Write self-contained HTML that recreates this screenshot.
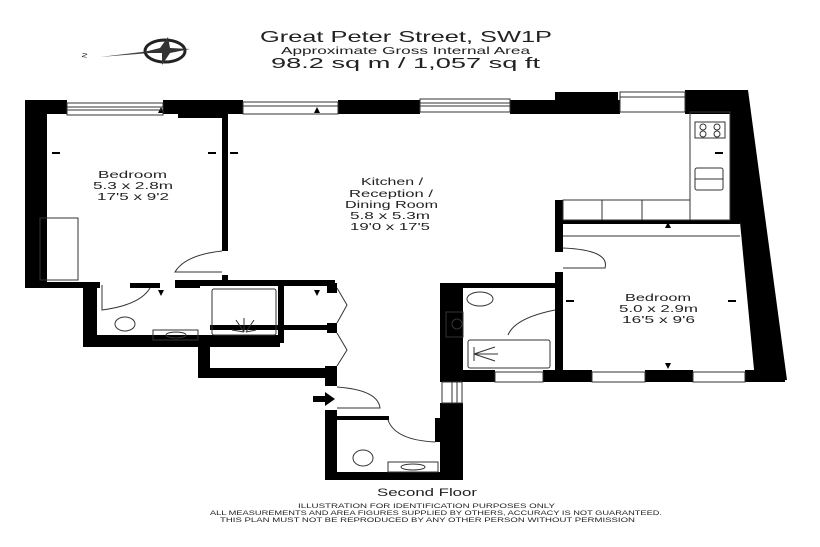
<!DOCTYPE html>
<html><head><meta charset="utf-8"><style>
html,body{margin:0;padding:0;background:#fff;width:820px;height:547px;overflow:hidden}
svg{display:block}
text{font-family:"Liberation Sans",sans-serif;fill:#222}
</style></head><body>
<svg width="820" height="547" viewBox="0 0 820 547" xmlns="http://www.w3.org/2000/svg">
<!-- header -->
<text x="260" y="42" font-size="16" textLength="292" lengthAdjust="spacingAndGlyphs">Great Peter Street, SW1P</text>
<text x="281" y="54" font-size="10.5" textLength="249" lengthAdjust="spacingAndGlyphs">Approximate Gross Internal Area</text>
<text x="271" y="68" font-size="15" textLength="269" lengthAdjust="spacingAndGlyphs">98.2 sq m  /  1,057 sq ft</text>
<!-- compass -->
<text x="82" y="57" font-size="7" transform="rotate(-80 85 55)">N</text>
<polygon points="100,57 150,51 150,53" fill="#444"/>
<ellipse cx="165" cy="51" rx="20" ry="11" fill="none" stroke="#222" stroke-width="3"/>
<polygon points="168,37 170,48 190,49 170,53 162,65 162,53 140,53 160,48" fill="#333"/>
<g fill="#000">
<rect x="25" y="100" width="42" height="14"/>
<rect x="163" y="100" width="80" height="14"/>
<rect x="178" y="100" width="44" height="18"/>
<rect x="338" y="100" width="82" height="14"/>
<rect x="510" y="100" width="110" height="14"/>
<rect x="555" y="92" width="63" height="22"/>
<rect x="685" y="90" width="60" height="24"/>
<polygon points="743,90 748,90 787,380 755,380 740,222 730,222 730,112 743,112"/>
<rect x="25" y="100" width="22" height="188"/>
<rect x="25" y="282" width="75" height="6"/>
<rect x="83" y="282" width="14" height="65"/>
<rect x="83" y="335" width="197" height="12"/>
<rect x="130" y="283" width="30" height="5"/>
<rect x="175" y="280" width="25" height="8"/>
<rect x="222" y="114" width="6" height="137"/>
<rect x="222" y="275" width="6" height="10"/>
<rect x="200" y="280" width="135" height="6"/>
<rect x="278" y="283" width="6" height="60"/>
<rect x="198" y="337" width="12" height="41"/>
<rect x="198" y="368" width="139" height="10"/>
<rect x="210" y="325" width="127" height="5"/>
<rect x="327" y="283" width="10" height="10"/>
<rect x="327" y="323" width="10" height="10"/>
<rect x="325" y="366" width="12" height="20"/>
<rect x="325" y="410" width="12" height="70"/>
<rect x="325" y="472" width="138" height="8"/>
<rect x="337" y="416" width="52" height="4"/>
<rect x="435" y="418" width="5" height="24"/>
<rect x="440" y="403" width="23" height="77"/>
<rect x="440" y="283" width="23" height="99"/>
<rect x="440" y="283" width="120" height="5"/>
<rect x="555" y="200" width="8" height="52"/>
<rect x="555" y="272" width="8" height="110"/>
<rect x="563" y="220" width="177" height="4"/>
<rect x="440" y="370" width="55" height="12"/>
<rect x="543" y="370" width="49" height="12"/>
<rect x="645" y="370" width="48" height="12"/>
<rect x="745" y="370" width="40" height="12"/>
<polygon points="313,396 325,396 325,392 335,399 325,406 325,402 313,402"/>
<polygon points="158,113 161,107 164,113"/><polygon points="314,113 317,107 320,113"/>
<polygon points="158,290 161,296 164,290"/><polygon points="314,290 317,296 320,290"/>
<polygon points="665,228 668,222 671,228"/><polygon points="665,363 668,369 671,363"/>
<rect x="52" y="152" width="8" height="2"/><rect x="208" y="152" width="8" height="2"/>
<rect x="230" y="152" width="8" height="2"/><rect x="715" y="152" width="8" height="2"/>
<rect x="566" y="300" width="8" height="2"/><rect x="728" y="300" width="8" height="2"/>
</g>
<g fill="none" stroke="#333" stroke-width="1">
<rect x="67" y="103" width="96" height="12"/><line x1="67" y1="107" x2="163" y2="107"/><line x1="67" y1="110" x2="163" y2="110"/>
<rect x="243" y="102" width="95" height="12"/><line x1="243" y1="106" x2="338" y2="106"/>
<rect x="420" y="99" width="90" height="13"/><line x1="420" y1="103" x2="510" y2="103"/><line x1="420" y1="106" x2="510" y2="106"/>
<rect x="620" y="92" width="65" height="20"/><line x1="620" y1="97" x2="685" y2="97"/>
<rect x="495" y="372" width="48" height="10"/><rect x="592" y="372" width="53" height="10"/><rect x="693" y="372" width="52" height="10"/>
<rect x="442" y="382" width="20" height="21"/><line x1="452" y1="382" x2="452" y2="403"/><line x1="457" y1="382" x2="457" y2="403"/>
<rect x="40" y="218" width="38" height="62"/>
<path d="M222,251 Q185,255 175,272 L222,272"/>
<path d="M150,288 Q140,305 102,310 L102,285"/>
<path d="M337,387 Q378,390 380,408 L337,408"/>
<path d="M388,420 Q395,440 435,442"/>
<path d="M563,248 Q610,250 605,268 L563,268"/>
<path d="M508,335 Q515,318 555,310"/>
<path d="M337,288 L347,305 L337,323"/><path d="M337,333 L347,350 L337,366"/>
<rect x="212" y="289" width="64" height="46" rx="2"/>
<path d="M236,320 L244,332 M244,318 L244,332 M254,320 L246,332 M232,330 L244,332 M256,330 L246,332"/>
<rect x="153" y="330" width="45" height="10"/><ellipse cx="176" cy="335" rx="10" ry="3"/>
<ellipse cx="125" cy="324" rx="10" ry="7"/>
<ellipse cx="363" cy="458" rx="10" ry="8"/>
<rect x="388" y="462" width="50" height="10"/><ellipse cx="413" cy="467" rx="12" ry="3"/>
<ellipse cx="480" cy="299" rx="13" ry="7"/>
<rect x="446" y="312" width="17" height="25"/><circle cx="457" cy="324" r="5"/>
<rect x="468" y="340" width="82" height="28" rx="2"/><path d="M474,347 L474,361 M474,354 L495,347 M474,354 L498,354 M474,354 L495,361"/>
<rect x="690" y="112" width="40" height="108"/>
<rect x="695" y="122" width="30" height="16"/>
<circle cx="703" cy="127" r="3"/><circle cx="717" cy="127" r="3"/><circle cx="703" cy="134" r="3"/><circle cx="717" cy="134" r="3"/>
<rect x="695" y="168" width="28" height="22" rx="2"/><line x1="695" y1="179" x2="723" y2="179"/>
<rect x="563" y="200" width="127" height="20"/>
<line x1="602" y1="200" x2="602" y2="220"/><line x1="642" y1="200" x2="642" y2="220"/>
<line x1="563" y1="236" x2="740" y2="236"/>
</g>
<g font-size="10.5">
<text x="98" y="178" textLength="69" lengthAdjust="spacingAndGlyphs">Bedroom</text>
<text x="93" y="189" textLength="80" lengthAdjust="spacingAndGlyphs">5.3 x 2.8m</text>
<text x="97" y="200" textLength="72" lengthAdjust="spacingAndGlyphs">17'5 x 9'2</text>
<text x="361" y="185" textLength="62" lengthAdjust="spacingAndGlyphs">Kitchen /</text>
<text x="349" y="197" textLength="84" lengthAdjust="spacingAndGlyphs">Reception /</text>
<text x="345" y="208" textLength="93" lengthAdjust="spacingAndGlyphs">Dining Room</text>
<text x="350" y="219" textLength="80" lengthAdjust="spacingAndGlyphs">5.8 x 5.3m</text>
<text x="350" y="230" textLength="80" lengthAdjust="spacingAndGlyphs">19'0 x 17'5</text>
<text x="625" y="301" textLength="66" lengthAdjust="spacingAndGlyphs">Bedroom</text>
<text x="619" y="312" textLength="79" lengthAdjust="spacingAndGlyphs">5.0 x 2.9m</text>
<text x="622" y="323" textLength="73" lengthAdjust="spacingAndGlyphs">16'5 x 9'6</text>
</g>
<text x="377" y="496" font-size="11" textLength="100" lengthAdjust="spacingAndGlyphs">Second Floor</text>
<g font-size="6.5">
<text x="298" y="508" textLength="257" lengthAdjust="spacingAndGlyphs">ILLUSTRATION FOR IDENTIFICATION PURPOSES ONLY</text>
<text x="210" y="515" textLength="452" lengthAdjust="spacingAndGlyphs">ALL MEASUREMENTS AND AREA FIGURES SUPPLIED BY OTHERS, ACCURACY IS NOT GUARANTEED.</text>
<text x="220" y="522" textLength="415" lengthAdjust="spacingAndGlyphs">THIS PLAN MUST NOT BE REPRODUCED BY ANY OTHER PERSON WITHOUT PERMISSION</text>
</g>
</svg>
</body></html>
